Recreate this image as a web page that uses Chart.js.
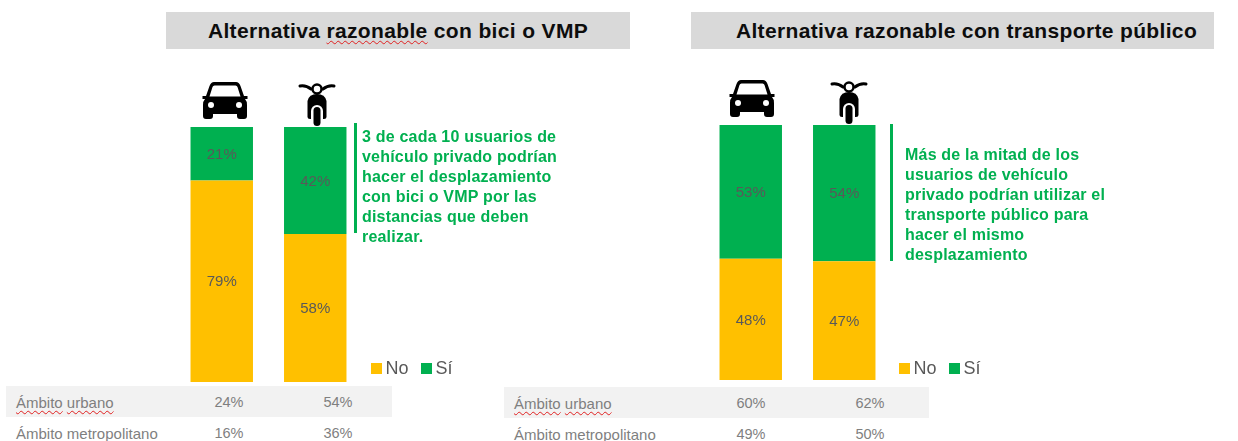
<!DOCTYPE html>
<html lang="es">
<head>
<meta charset="utf-8">
<script src="https://cdn.jsdelivr.net/npm/chart.js@4"></script>
<style>
html, body { margin: 0; padding: 0; background: #fff; }
body { position: relative; width: 1238px; height: 441px; overflow: hidden; font-family: "Liberation Sans", Arial, sans-serif; }
canvas { position: absolute; }
.band { position: absolute; top: 12px; height: 37px; line-height: 37px; background: #d9d9d9; color: #0d0d0d; text-align: center; font-size: 21px; font-weight: bold; letter-spacing: 0.35px; box-sizing: border-box; }
.note { position: absolute; color: #00b050; font-size: 16px; line-height: 20px; font-weight: bold; white-space: nowrap; letter-spacing: 0.2px; }
.rule { position: absolute; width: 3px; background: #00b050; }
.row { position: absolute; height: 31px; line-height: 33px; color: #7f7f7f; font-size: 15px; }
.row.shade { background: #f2f2f2; }
.row span { position: absolute; top: 0; white-space: nowrap; }
.row .val { transform: translateX(-50%); font-size: 14.5px; }
.sp { text-decoration: underline wavy #e02020 1px; text-underline-offset: 2px; }
svg { position: absolute; }
</style>
</head>
<body>
<svg width="0" height="0" style="position:absolute">
  <symbol id="car" viewBox="0 0 46 40">
    <path fill-rule="evenodd" d="M12 1H34Q37 1 38.5 5L42 15H45.5V18H43Q45 20 45 24V35Q45 38 42 38H38Q35 38 35 35V33H11V35Q11 38 8 38H4Q1 38 1 35V24Q1 20 3 18H.5V15H4L7.500 5Q9 1 12 1ZM12.500 4.500Q11 4.500 10.500 6L7.500 15.500H38.500L35.500 6Q35 4.500 33.500 4.500Z"/>
    <circle cx="9" cy="24" r="3" fill="#fff"/><circle cx="37" cy="24" r="3" fill="#fff"/>
  </symbol>
  <symbol id="moto" viewBox="0 0 38 44">
    <path d="M2 4Q8 3 13 7M36 4Q30 3 25 7" fill="none" stroke="#000" stroke-width="3" stroke-linecap="round"/>
    <circle cx="19" cy="7" r="4.500" fill="none" stroke="#000" stroke-width="2.500"/>
    <path d="M19 12Q27 12 28.500 19V35Q28.500 37 26 37H12Q9.500 37 9.500 35V19Q11 12 19 12Z"/>
    <rect x="13" y="23" width="12" height="22" rx="6" fill="#fff"/>
    <rect x="15.500" y="25" width="7" height="19" rx="3.500"/>
  </symbol>
</svg>

<div class="band" style="left:166px;width:464px">Alternativa <span class="sp">razonable</span> con bici o VMP</div>
<div class="band" style="left:691px;width:523px;padding-left:28px">Alternativa razonable con transporte público</div>

<svg style="left:202px;top:81px" width="46" height="40"><use href="#car"/></svg>
<svg style="left:298px;top:82px" width="38" height="44"><use href="#moto"/></svg>
<svg style="left:729px;top:79px" width="46" height="40"><use href="#car"/></svg>
<svg style="left:830px;top:80px" width="38" height="44"><use href="#moto"/></svg>

<canvas id="chartBici" width="290" height="255" style="left:175px;top:127px"></canvas>
<canvas id="chartTP" width="290" height="255" style="left:704px;top:125px"></canvas>

<div class="rule" style="left:354px;top:123px;height:110px"></div>
<div class="note" style="left:362px;top:127px">3 de cada 10 usuarios de<br>vehículo privado podrían<br>hacer el desplazamiento<br>con bici o VMP por las<br>distancias que deben<br>realizar.</div>
<div class="rule" style="left:890px;top:124px;height:137px"></div>
<div class="note" style="left:905px;top:145px">Más de la mitad de los<br>usuarios de vehículo<br>privado podrían utilizar el<br>transporte público para<br>hacer el mismo<br>desplazamiento</div>

<div id="tables"></div>

<script>
const categories = ['Coche', 'Moto'];
const seriesNames = ['No', 'Sí'];
const seriesColors = ['#ffc000', '#00b050'];
const biciNo = [79, 58];
const biciSi = [21, 42];
const tpNo = [48, 47];
const tpSi = [53, 54];
const rowNames = ['Ámbito urbano', 'Ámbito metropolitano'];
const biciUrbano = ['24%', '54%'];
const biciMetro = ['16%', '36%'];
const tpUrbano = ['60%', '62%'];
const tpMetro = ['49%', '50%'];

// labels inside the bars + legend in the free space at the right of the plot
const barText = {
    id: 'barText',
    afterDatasetsDraw(chart, args, options) {
        const ctx = chart.ctx;
        ctx.save();
        ctx.textAlign = 'center';
        ctx.textBaseline = 'middle';
        ctx.font = '15px "Liberation Sans"';
        ctx.fillStyle = '#595959';
        chart.data.datasets.forEach((ds, i) => {
            chart.getDatasetMeta(i).data.forEach((bar, j) => {
                ctx.fillText(ds.data[j] + '%', bar.x, (bar.y + bar.base) / 2 + 1);
            });
        });
        // legend
        ctx.textAlign = 'left';
        ctx.font = '18px "Liberation Sans"';
        const y = chart.height - options.legendBottom;
        let x = chart.chartArea.right + options.legendGap;
        chart.data.datasets.forEach(ds => {
            ctx.fillStyle = ds.backgroundColor;
            ctx.fillRect(x, y - 5, 11, 11);
            ctx.fillStyle = '#595959';
            ctx.fillText(ds.label, x + 14.5, y + 1);
            x += 50;
        });
        ctx.restore();
    }
};

function makeChart(id, no, si, yMax, legendBottom, legendGap) {
    return new Chart(document.getElementById(id), {
        type: 'bar',
        data: {
            labels: categories,
            datasets: [
                { label: seriesNames[0], data: no, backgroundColor: seriesColors[0] },
                { label: seriesNames[1], data: si, backgroundColor: seriesColors[1] }
            ]
        },
        options: {
            responsive: false,
            animation: false,
            layout: { padding: { right: 103 } },
            datasets: { bar: { categoryPercentage: 1, barPercentage: 0.668 } },
            scales: {
                x: { stacked: true, display: false },
                y: { stacked: true, display: false, min: 0, max: yMax }
            },
            plugins: {
                legend: { display: false },
                tooltip: { enabled: false },
                barText: { legendBottom: legendBottom, legendGap: legendGap }
            }
        },
        plugins: [barText]
    });
}
makeChart('chartBici', biciNo, biciSi, 100, 14, 9);
makeChart('chartTP', tpNo, tpSi, 101, 12, 8);

// small tables under the charts
function nameHtml(name) {
    return name.split(' ').map(w => '<span class="sp" style="position:static">' + w + '</span>').join(' ');
}
function addRow(left, width, top, shade, name, vals, pos) {
    const r = document.createElement('div');
    r.className = 'row' + (shade ? ' shade' : '');
    r.style.cssText = `left:${left}px;width:${width}px;top:${top}px`;
    r.innerHTML = `<span style="left:10px">${nameHtml(name)}</span>` +
        vals.map((v, i) => `<span class="val" style="left:${pos[i] - left}px">${v}</span>`).join('');
    document.getElementById('tables').appendChild(r);
}
addRow(6, 386, 386, true, rowNames[0], biciUrbano, [229, 338]);
addRow(6, 386, 417, false, rowNames[1], biciMetro, [229, 338]);
addRow(504, 425, 387, true, rowNames[0], tpUrbano, [751, 870]);
addRow(504, 425, 418, false, rowNames[1], tpMetro, [751, 870]);
</script>
</body>
</html>
